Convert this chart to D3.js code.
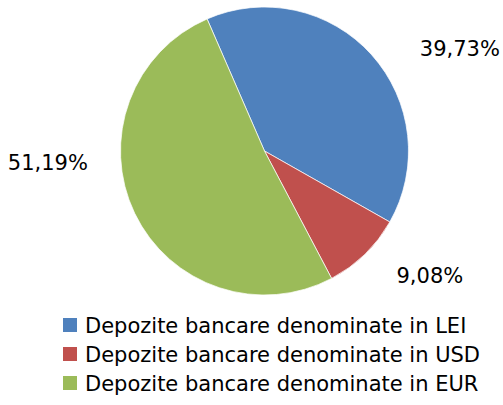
<!DOCTYPE html>
<html>
<head>
<meta charset="utf-8">
<script src="https://cdn.jsdelivr.net/npm/d3@7"></script>
<style>
  body { margin: 0; background: #fff; }
  text { font-family: "DejaVu Sans", Arial, sans-serif; fill: #000; }
</style>
</head>
<body>
<div id="chart"></div>
<script>
// data
var categories = ['Depozite bancare denominate in LEI',
                  'Depozite bancare denominate in USD',
                  'Depozite bancare denominate in EUR'];
var values = [39.73, 9.08, 51.19];
var valueLabels = ['39,73%', '9,08%', '51,19%'];
var colors = ['#4F81BD', '#C0504D', '#9BBB59'];

var w = 503, h = 405;
var cx = 264.5, cy = 151, r = 144;
var start = -23.5 * Math.PI / 180; // first slice begins left of 12 o'clock
// nudges of the data labels away from the arc centroid (Excel placed them by hand)
var labelNudge = [[53, 26], [32, -12], [-44, -71]];

var svg = d3.select('#chart').append('svg')
    .attr('width', w)
    .attr('height', h);

var pie = d3.pie()
    .sort(null)
    .startAngle(start)
    .endAngle(start + 2 * Math.PI)
    .value(function (d) { return d; });

var arcs = pie(values);
var arc = d3.arc().innerRadius(0).outerRadius(r);

var g = svg.append('g')
    .attr('transform', 'translate(' + cx + ',' + cy + ')');

g.selectAll('path')
    .data(arcs)
    .enter().append('path')
    .attr('d', arc)
    .attr('fill', function (d, i) { return colors[i]; })
    .attr('stroke', '#fff')
    .attr('stroke-width', 0.7);

// data labels outside the pie
var labelArc = d3.arc().innerRadius(r * 1.33).outerRadius(r * 1.33);
g.selectAll('.pct')
    .data(arcs)
    .enter().append('text')
    .attr('class', 'pct')
    .attr('text-anchor', 'middle')
    .attr('dominant-baseline', 'central')
    .style('font-size', '21px')
    .attr('x', function (d, i) { return labelArc.centroid(d)[0] + labelNudge[i][0]; })
    .attr('y', function (d, i) { return labelArc.centroid(d)[1] + labelNudge[i][1]; })
    .text(function (d, i) { return valueLabels[i]; });

// legend
var legend = svg.append('g').attr('class', 'legend');
var item = legend.selectAll('g')
    .data(categories)
    .enter().append('g')
    .attr('transform', function (d, i) { return 'translate(63,' + (318 + i * 29) + ')'; });

item.append('rect')
    .attr('width', 14)
    .attr('height', 14)
    .attr('fill', function (d, i) { return colors[i]; });

item.append('text')
    .attr('x', 22)
    .attr('y', 8)
    .attr('dominant-baseline', 'central')
    .style('font-size', '21px')
    .text(function (d) { return d; });
</script>
</body>
</html>
